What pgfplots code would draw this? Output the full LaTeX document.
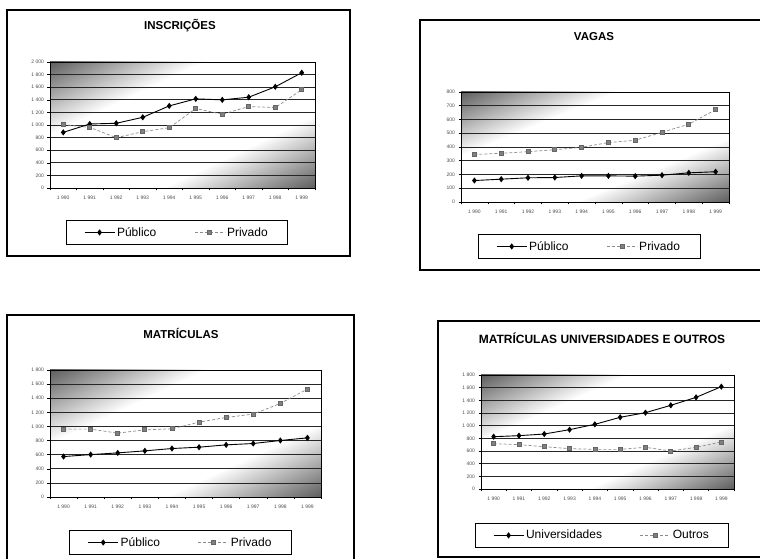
\documentclass[border=0pt]{standalone}
\usepackage{pgfplots}
\pgfplotsset{compat=1.18}
\usepackage{fontspec}
\setmainfont{Liberation Sans}
\pgfdeclareverticalshading{diagbg}{100bp}{color(0bp)=(black!68); color(13bp)=(black!68); color(35bp)=(white); color(65bp)=(white); color(87bp)=(black!68); color(100bp)=(black!68)}
\pgfplotsset{
 panel/.style={
  scale only axis, anchor=south west,
  xmin=-0.5, xmax=9.5, ymin=0,
  xtick={0,...,9},
  xticklabels={1 990,1 991,1 992,1 993,1 994,1 995,1 996,1 997,1 998,1 999},
  minor xtick={-0.5,0.5,...,9.5},
  major x tick style={draw=none},
  minor tick length=2.5pt, major tick length=2.5pt,
  tick align=outside, xtick pos=bottom, ytick pos=left,
  ymajorgrids, grid style={black!85, line width=0.7pt},
  axis line style={black, line width=0.6pt},
  tick style={black, line width=0.5pt},
  ticklabel style={font=\fontsize{5}{6}\selectfont, text=black!70},
  xticklabel style={yshift=-2pt},
  /pgf/number format/assume math mode=true,
  /pgf/number format/1000 sep={\ },
  legend columns=2,
  legend style={draw=black, line width=0.6pt, font=\fontsize{12}{14}\selectfont, anchor=north,
    inner xsep=18pt, inner ysep=5pt,
    /tikz/every even column/.append style={column sep=36pt}},
  legend image code/.code={\draw[mark repeat=2, mark phase=2, #1] plot coordinates {(0pt,0pt)(15pt,0pt)(30pt,0pt)};},
 },
 pub/.style={black, line width=0.9pt, mark=diamond*, mark size=2.4pt, mark options={solid, fill=black}},
 priv/.style={black!45, line width=0.7pt, densely dashed, mark=square*, mark size=2pt, mark options={solid, fill=black!50, draw=black!60}},
}
\newcommand{\bgrect}[4]{% center x, center y, W/100, H/100
 \begin{scope}[transform canvas={shift={(#1,#2)}, xscale=#3, yscale=#4}]
  \shade[shading=diagbg, shading angle=45] (-50pt,-50pt) rectangle (50pt,50pt);
 \end{scope}}
\begin{document}
\begin{tikzpicture}
\path[use as bounding box] (0pt,0pt) rectangle (760pt,559pt);
\clip (0pt,0pt) rectangle (760pt,559pt);
% frames
\draw[line width=1.5pt] (7pt,303pt) rectangle (350pt,549pt);
\draw[line width=1.5pt] (420pt,289pt) rectangle (765pt,539pt);
\draw[line width=1.5pt] (7pt,-5pt) rectangle (354pt,244pt);
\draw[line width=1.5pt] (438pt,2pt) rectangle (765pt,238pt);
% plot-area backgrounds
\bgrect{182.5pt}{434pt}{2.65}{1.26}
\bgrect{595pt}{412pt}{2.68}{1.10}
\bgrect{185.5pt}{125.5pt}{2.71}{1.27}
\bgrect{607.5pt}{127pt}{2.53}{1.14}
% titles
\node[font=\bfseries\fontsize{11.5}{13}\selectfont] at (180pt,533pt) {INSCRIÇÕES};
\node[font=\bfseries\fontsize{11.5}{13}\selectfont] at (594pt,522pt) {VAGAS};
\node[font=\bfseries\fontsize{11.5}{13}\selectfont] at (181pt,226pt) {MATRÍCULAS};
\node[font=\bfseries\fontsize{12}{14}\selectfont] at (602pt,221pt) {MATRÍCULAS UNIVERSIDADES E OUTROS};

% Chart 1: Inscricoes
\begin{axis}[panel, at={(50pt,371pt)}, width=265pt, height=126pt, ymax=2000, ytick distance=200,
  legend style={at={(0.479,-0.254)}}]
\addplot[pub] coordinates {(0,883)(1,1016)(2,1027)(3,1122)(4,1303)(5,1415)(6,1399)(7,1441)(8,1606)(9,1830)};
\addplot[priv] coordinates {(0,1005)(1,963)(2,798)(3,894)(4,957)(5,1261)(6,1170)(7,1293)(8,1277)(9,1559)};
\legend{Público,Privado}
\end{axis}

% Chart 2: Vagas
\begin{axis}[panel, at={(461pt,357pt)}, width=268pt, height=110pt, ymax=800, ytick distance=100,
  legend style={at={(0.478,-0.291)}}]
\addplot[pub] coordinates {(0,156)(1,166)(2,176)(3,178)(4,190)(5,190)(6,188)(7,195)(8,212)(9,220)};
\addplot[priv] coordinates {(0,346)(1,354)(2,366)(3,380)(4,398)(5,432)(6,449)(7,507)(8,566)(9,671)};
\legend{Público,Privado}
\end{axis}

% Chart 3: Matriculas
\begin{axis}[panel, at={(50pt,62pt)}, width=271pt, height=127pt, ymax=1800, ytick distance=200,
  legend style={at={(0.482,-0.26)}}]
\addplot[pub] coordinates {(0,573)(1,601)(2,625)(3,654)(4,687)(5,706)(6,739)(7,758)(8,801)(9,838)};
\addplot[priv] coordinates {(0,962)(1,962)(2,905)(3,952)(4,966)(5,1061)(6,1127)(7,1175)(8,1326)(9,1530)};
\legend{Público,Privado}
\end{axis}

% Chart 4: Universidades e outros
\begin{axis}[panel, at={(481pt,70pt)}, width=253pt, height=114pt, ymax=1800, ytick distance=200,
  legend style={at={(0.478,-0.298)}}]
\addplot[pub] coordinates {(0,826)(1,842)(2,868)(3,937)(4,1021)(5,1132)(6,1205)(7,1321)(8,1447)(9,1616)};
\addplot[priv] coordinates {(0,716)(1,700)(2,668)(3,637)(4,626)(5,626)(6,658)(7,600)(8,658)(9,742)};
\legend{Universidades,Outros}
\end{axis}
\end{tikzpicture}
\end{document}
